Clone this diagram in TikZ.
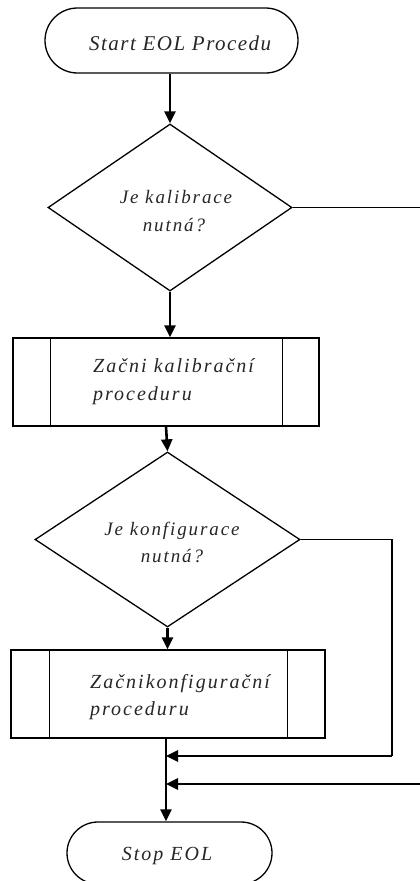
\documentclass[tikz,border=0pt]{standalone}
\usepackage{fontspec}
\setmainfont{Liberation Serif}[LetterSpace=10]
\newfontfamily\startfont{Liberation Serif}[LetterSpace=7]
\usetikzlibrary{shapes.geometric,shapes.misc,arrows.meta}
\begin{document}
\begin{tikzpicture}[x=1pt,y=-1pt,
  shp/.style={draw,line width=1.3pt,inner sep=0pt},
  dia/.style={shp,diamond},
  term/.style={shp,rounded rectangle},
  proc/.style={shp,rectangle},
  txt/.style={font=\fontsize{20}{28}\selectfont\itshape,inner sep=0pt,text=black!85},
  dtxt/.style={txt,font=\fontsize{19}{28}\selectfont\itshape},
  flow/.style={line width=2.6pt,-{Triangle[length=12pt,width=11pt]}},
  side/.style={line width=1.3pt},
  sidearrow/.style={line width=2.6pt,-{Triangle[length=12pt,width=11pt]}}]
\useasboundingbox (0,0) rectangle (420,881);
\clip (0,0) rectangle (420,881);
% shapes
\node[term,minimum width=253pt,minimum height=65pt] (start) at (171.5,40.5) {};
\node[dia,minimum width=244pt,minimum height=167pt] (d1) at (170,207.5) {};
\node[proc,minimum width=306pt,minimum height=88pt] (b1) at (166,382) {};
\node[dia,minimum width=265pt,minimum height=175pt] (d2) at (167.5,539.5) {};
\node[proc,minimum width=314pt,minimum height=88pt] (b2) at (168,694) {};
\node[term,minimum width=205pt,minimum height=62pt] (stop) at (169.5,853) {};
% inner bars of process boxes
\draw[side] ([xshift=38pt]b1.north west) -- ([xshift=38pt]b1.south west);
\draw[side] ([xshift=-37pt]b1.north east) -- ([xshift=-37pt]b1.south east);
\draw[side] ([xshift=39pt]b2.north west) -- ([xshift=39pt]b2.south west);
\draw[side] ([xshift=-38pt]b2.north east) -- ([xshift=-38pt]b2.south east);
% texts
\node[txt,font=\startfont\fontsize{21}{28}\selectfont\itshape,anchor=base west] (tstart) at (89,50) {Start EOL Procedu};
\node[dtxt,anchor=base] (td1a) at (176,203) {Je kalibrace};
\node[dtxt,anchor=base] (td1b) at (174,231) {nutná?};
\node[txt,anchor=base west] (tb1a) at (93,372) {Začni kalibrační};
\node[txt,anchor=base west] (tb1b) at (93,400) {proceduru};
\node[dtxt,anchor=base] (td2a) at (172,535) {Je konfigurace};
\node[dtxt,anchor=base] (td2b) at (172,562) {nutná?};
\node[txt,anchor=base west] (tb2a) at (90,688) {Začnikonfigurační};
\node[txt,anchor=base west] (tb2b) at (90,715) {proceduru};
\node[txt,anchor=base] (tstop) at (167,860) {Stop EOL};
% junction points on the main line
\coordinate (j1) at (166,756);
\coordinate (j2) at (166,784);
% connectors
\draw[flow] (start.south -| d1.north) -- (d1.north);
\draw[flow] (d1.south) -- (b1.north -| d1.south);
\draw[flow] (b1.south) -- (d2.north);
\draw[flow] (d2.south) -- (b2.north -| d2.south);
\draw[flow] (b2.south -| j1) -- (stop.north -| j1);
\draw[side] (d2.east) -- (392,539.5) -- (392,756);
\draw[sidearrow] (392,756) -- (j1);
\draw[side] (d1.east) -- (440,207.5) -- (440,784);
\draw[sidearrow] (440,784) -- (j2);
\end{tikzpicture}
\end{document}
